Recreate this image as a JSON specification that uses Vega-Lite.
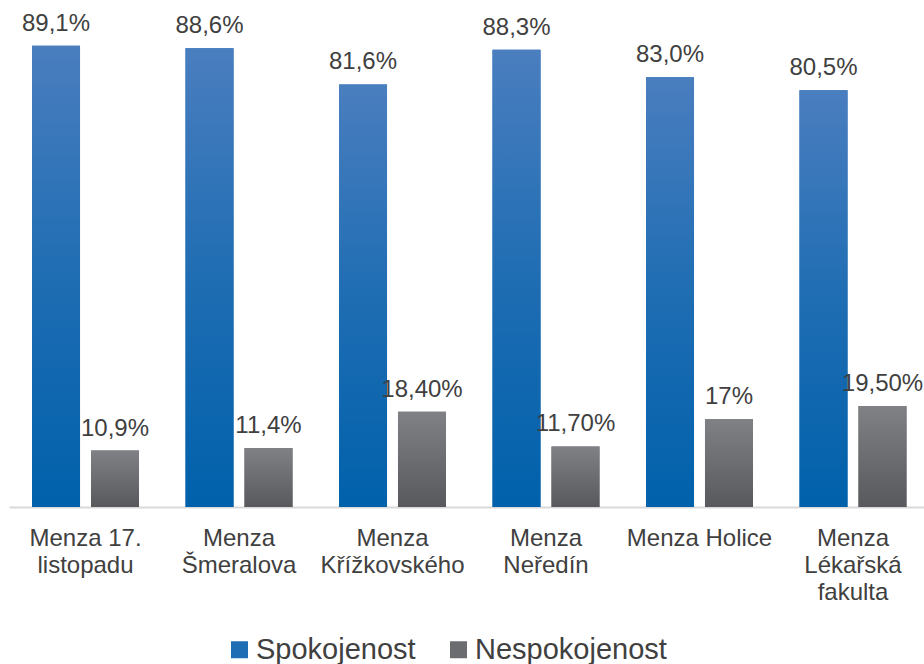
{
  "$schema": "https://vega.github.io/schema/vega-lite/v6.json",
  "autosize": "none",
  "width": 915,
  "height": 466,
  "padding": {"left": 9, "top": 41, "right": 0, "bottom": 157},
  "background": "white",
  "config": {"view": {"stroke": null}, "font": "Liberation Sans"},
  "data": {"values": [
    {"menza": "Menza 17. listopadu", "series": "Spokojenost", "value": 89.1, "label": "89,1%"},
    {"menza": "Menza 17. listopadu", "series": "Nespokojenost", "value": 10.9, "label": "10,9%"},
    {"menza": "Menza Šmeralova", "series": "Spokojenost", "value": 88.6, "label": "88,6%"},
    {"menza": "Menza Šmeralova", "series": "Nespokojenost", "value": 11.4, "label": "11,4%"},
    {"menza": "Menza Křížkovského", "series": "Spokojenost", "value": 81.6, "label": "81,6%"},
    {"menza": "Menza Křížkovského", "series": "Nespokojenost", "value": 18.4, "label": "18,40%"},
    {"menza": "Menza Neředín", "series": "Spokojenost", "value": 88.3, "label": "88,3%"},
    {"menza": "Menza Neředín", "series": "Nespokojenost", "value": 11.7, "label": "11,70%"},
    {"menza": "Menza Holice", "series": "Spokojenost", "value": 83.0, "label": "83,0%"},
    {"menza": "Menza Holice", "series": "Nespokojenost", "value": 17, "label": "17%"},
    {"menza": "Menza Lékařská fakulta", "series": "Spokojenost", "value": 80.5, "label": "80,5%"},
    {"menza": "Menza Lékařská fakulta", "series": "Nespokojenost", "value": 19.5, "label": "19,50%"}
  ]},
  "encoding": {
    "x": {
      "field": "menza", "type": "nominal", "sort": null,
      "scale": {"paddingInner": 0.303, "paddingOuter": 0.132, "align": 0.568},
      "axis": {
        "title": null, "labelAngle": 0, "ticks": false,
        "domainColor": "#d9d9d9", "domainWidth": 2,
        "labelFontSize": 24, "labelColor": "#404040", "labelPadding": 19,
        "labelLineHeight": 27, "labelBaseline": "top", "labelLimit": 0,
        "labelOverlap": false, "labelBound": false,
        "labelExpr": "datum.label == 'Menza Holice' ? datum.label : datum.label == 'Menza 17. listopadu' ? ['Menza 17.', 'listopadu'] : split(datum.label, ' ')"
      }
    },
    "xOffset": {
      "field": "series", "type": "nominal",
      "scale": {"domain": ["Spokojenost", "Nespokojenost"], "paddingInner": 0.186, "paddingOuter": 0}
    },
    "y": {
      "field": "value", "type": "quantitative",
      "scale": {"domain": [0, 90]},
      "axis": null
    }
  },
  "layer": [
    {
      "mark": {"type": "bar"},
      "encoding": {
        "color": {
          "field": "series", "type": "nominal",
          "scale": {"domain": ["Spokojenost", "Nespokojenost"], "range": ["#1f6db5", "#6b6c70"]},
          "legend": {
            "title": null, "orient": "none", "direction": "horizontal",
            "legendX": 216, "legendY": 594, "padding": 0,
            "symbolType": "square", "symbolSize": 289, "symbolStrokeWidth": 0,
            "labelFontSize": 29, "labelColor": "#404040", "labelOffset": 2,
            "columnPadding": 28, "labelLimit": 0
          }
        }
      }
    },
    {
      "transform": [{"filter": "datum.series === 'Spokojenost'"}],
      "mark": {"type": "bar", "color": {"gradient": "linear", "x1": 0, "y1": 0, "x2": 0, "y2": 1,
        "stops": [{"offset": 0, "color": "#4a7ebf"}, {"offset": 0.5, "color": "#1f6db3"}, {"offset": 1, "color": "#0061ab"}]}}
    },
    {
      "transform": [{"filter": "datum.series === 'Nespokojenost'"}],
      "mark": {"type": "bar", "color": {"gradient": "linear", "x1": 0, "y1": 0, "x2": 0, "y2": 1,
        "stops": [{"offset": 0, "color": "#808185"}, {"offset": 1, "color": "#58595d"}]}}
    },
    {
      "mark": {"type": "text", "baseline": "alphabetic", "dy": -15, "fontSize": 24, "color": "#404040"},
      "encoding": {"text": {"field": "label"}}
    }
  ]
}
